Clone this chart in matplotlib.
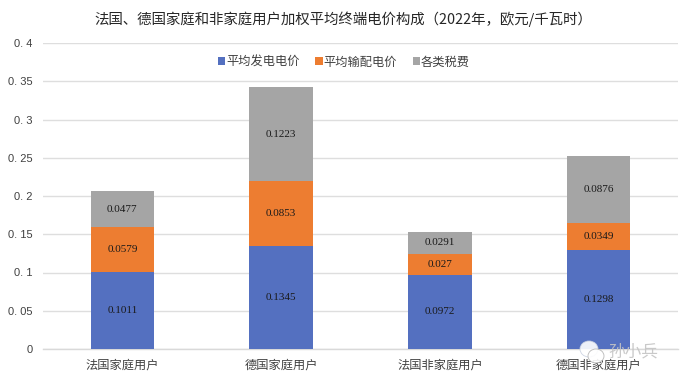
import matplotlib
matplotlib.use("Agg")
import matplotlib.pyplot as plt
from matplotlib.patches import Ellipse, Patch

plt.rcParams['font.family'] = ['Noto Sans CJK SC', 'DejaVu Sans']

categories = ['法国家庭用户', '德国家庭用户', '法国非家庭用户', '德国非家庭用户']
generation = [0.1011, 0.1345, 0.0972, 0.1298]
network = [0.0579, 0.0853, 0.027, 0.0349]
taxes = [0.0477, 0.1223, 0.0291, 0.0876]
series_names = ['平均发电电价', '平均输配电价', '各类税费']
colors = ['#5470C0', '#ED7D31', '#A5A5A5']
y_ticks = [0, 0.05, 0.1, 0.15, 0.2, 0.25, 0.3, 0.35, 0.4]
y_labels = ['0', '0. 05', '0. 1', '0. 15', '0. 2', '0. 25', '0. 3', '0. 35', '0. 4']
title = '法国、德国家庭和非家庭用户加权平均终端电价构成（2022年，欧元/千瓦时）'

W, H = 681, 383
fig = plt.figure(figsize=(W / 100, H / 100), dpi=100)
ax = fig.add_axes([43 / W, 1 - 349 / H, 635 / W, 306 / H])

x = list(range(len(categories)))
bottom = [0.0] * len(x)
for vals, color in zip([generation, network, taxes], colors):
    ax.bar(x, vals, width=0.4, bottom=bottom, color=color, zorder=3, linewidth=0)
    for xi, v, b in zip(x, vals, bottom):
        ax.text(xi, b + v / 2, f'{v:g}', ha='center', va='center', fontsize=8,
                family='Liberation Serif', color='#1a1a1a', zorder=4)
    bottom = [b + v for b, v in zip(bottom, vals)]

ax.set_xlim(-0.5, 3.5)
ax.set_ylim(0, 0.4)
ax.set_yticks(y_ticks)
ax.set_yticklabels(y_labels, fontsize=8, color='#404040', family='Liberation Sans')
ax.set_xticks(x)
ax.set_xticklabels(categories, fontsize=8.8, color='#404040')
ax.tick_params(axis='x', length=0, pad=7)
ax.tick_params(axis='y', length=0, pad=7.5)
ax.grid(axis='y', color='#DEDEDE', linewidth=1, zorder=0)
ax.set_axisbelow(True)
for s in ['top', 'right', 'left']:
    ax.spines[s].set_visible(False)
ax.spines['bottom'].set_color('#D9D9D9')
ax.spines['bottom'].set_linewidth(1)

fig.text(343 / W, 1 - 19 / H, title, ha='center', va='center', fontsize=10.4, color='#262626')

handles = [Patch(facecolor=c, label=n) for c, n in zip(colors, series_names)]
fig.legend(handles=handles, loc='center', bbox_to_anchor=(344 / W, 1 - 62 / H), ncol=3,
           frameon=False, fontsize=8.8, labelcolor='#404040', handlelength=0.6,
           handleheight=0.6, handletextpad=0.1, columnspacing=1.25)

# WeChat-style watermark
wm = fig.add_axes([0, 0, 1, 1], facecolor='none', zorder=10)
wm.set_xlim(0, W)
wm.set_ylim(H, 0)
wm.axis('off')
wm.add_patch(Ellipse((589, 349), 18, 16, facecolor='#FFFFFF', edgecolor='#C8D0E0', lw=0.6, alpha=0.9))
wm.add_patch(Ellipse((596, 356), 16, 14, facecolor='#FFFFFF', edgecolor='#B0B0B0', lw=0.6, alpha=0.9))
wm.text(633, 352, '孙小兵', ha='center', va='center', fontsize=12, color='#C4C4C4', alpha=0.9)

fig.savefig('out.png', dpi=100)
